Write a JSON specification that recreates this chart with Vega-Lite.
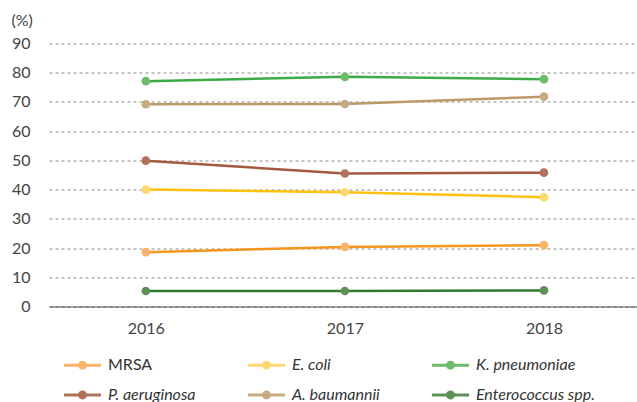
{
  "$schema": "https://vega.github.io/schema/vega-lite/v6.json",
  "width": 588,
  "height": 263,
  "autosize": {"type": "none"},
  "padding": {"left": 49, "top": 43.5, "right": 0, "bottom": 95.5},
  "background": "white",
  "config": {"view": {"stroke": null}, "font": "Lato"},
  "data": {
    "values": [
      {"series": "MRSA", "year": "2016", "value": 18.6},
      {"series": "MRSA", "year": "2017", "value": 20.4},
      {"series": "MRSA", "year": "2018", "value": 21.0},
      {"series": "E. coli", "year": "2016", "value": 40.0},
      {"series": "E. coli", "year": "2017", "value": 39.1},
      {"series": "E. coli", "year": "2018", "value": 37.4},
      {"series": "K. pneumoniae", "year": "2016", "value": 77.1},
      {"series": "K. pneumoniae", "year": "2017", "value": 78.6},
      {"series": "K. pneumoniae", "year": "2018", "value": 77.8},
      {"series": "P. aeruginosa", "year": "2016", "value": 49.9},
      {"series": "P. aeruginosa", "year": "2017", "value": 45.5},
      {"series": "P. aeruginosa", "year": "2018", "value": 45.8},
      {"series": "A. baumannii", "year": "2016", "value": 69.2},
      {"series": "A. baumannii", "year": "2017", "value": 69.3},
      {"series": "A. baumannii", "year": "2018", "value": 71.8},
      {"series": "Enterococcus spp.", "year": "2016", "value": 5.3},
      {"series": "Enterococcus spp.", "year": "2017", "value": 5.3},
      {"series": "Enterococcus spp.", "year": "2018", "value": 5.5}
    ]
  },
  "encoding": {
    "x": {
      "field": "year",
      "type": "ordinal",
      "scale": {"type": "point", "padding": 0.477, "align": 0.51},
      "axis": {
        "labelAngle": 0,
        "domainColor": "#444",
        "domainWidth": 1.2,
        "ticks": false,
        "labelPadding": 14,
        "labelFontSize": 16,
        "labelColor": "#444",
        "title": null
      }
    },
    "y": {
      "field": "value",
      "type": "quantitative",
      "scale": {"domain": [0, 90]},
      "axis": {
        "values": [0, 10, 20, 30, 40, 50, 60, 70, 80, 90],
        "domain": false,
        "ticks": false,
        "gridDash": [3, 3],
        "gridColor": "#888",
        "labelPadding": 19,
        "labelFontSize": 16,
        "labelColor": "#444",
        "title": "(%)",
        "titleAngle": 0,
        "titleAlign": "left",
        "titleBaseline": "middle",
        "titleX": -38,
        "titleY": -23,
        "titleFontWeight": "normal",
        "titleFontSize": 16,
        "titleColor": "#444"
      }
    }
  },
  "layer": [
    {
      "mark": {"type": "line", "strokeWidth": 2.5},
      "encoding": {
        "color": {
          "field": "series",
          "type": "nominal",
          "scale": {
            "domain": ["MRSA", "E. coli", "K. pneumoniae", "P. aeruginosa", "A. baumannii", "Enterococcus spp."],
            "range": ["#F7941E", "#FFC20E", "#3DAA47", "#A35A3E", "#BB9A6A", "#2F7B2D"]
          },
          "legend": {
            "orient": "none",
            "direction": "horizontal",
            "legendX": 15,
            "legendY": 303,
            "columns": 3,
            "columnPadding": 52,
            "rowPadding": 3,
            "padding": 0,
            "title": null,
            "symbolType": "M-1,-0.08H1V0.08H-1Z M-0.24,0A0.24,0.24 0 1,1 0.24,0A0.24,0.24 0 1,1 -0.24,0Z",
            "symbolSize": 1369,
            "symbolStrokeWidth": 0,
            "labelOffset": 7,
            "labelFontSize": 16,
            "labelColor": "#333",
            "labelLimit": 300,
            "encode": {
              "symbols": {
                "update": {
                  "fill": {"scale": "color", "field": "value"},
                  "fillOpacity": {"value": 1},
                  "strokeWidth": {"value": 0}
                }
              },
              "labels": {
                "update": {
                  "fontStyle": {"signal": "datum.label === 'MRSA' ? 'normal' : 'italic'"}
                }
              }
            }
          }
        }
      }
    },
    {
      "mark": {"type": "point", "filled": true, "size": 75, "opacity": 1},
      "encoding": {
        "fill": {
          "field": "series",
          "type": "nominal",
          "scale": {
            "domain": ["MRSA", "E. coli", "K. pneumoniae", "P. aeruginosa", "A. baumannii", "Enterococcus spp."],
            "range": ["#FBB26A", "#FFD870", "#6CBB6A", "#B0725A", "#C8AA80", "#5F9058"]
          },
          "legend": null
        }
      }
    }
  ]
}
